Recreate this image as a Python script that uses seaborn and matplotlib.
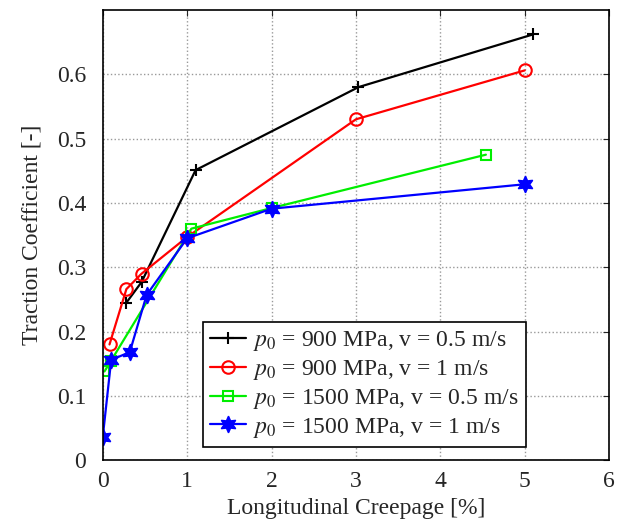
import matplotlib
matplotlib.use("Agg")
import matplotlib.pyplot as plt
import seaborn as sns

# Data
x_900_05 = [0.28, 0.46, 1.10, 3.03, 5.10]
y_900_05 = [0.245, 0.277, 0.451, 0.580, 0.662]

x_900_1 = [0.08, 0.28, 0.46, 1.00, 3.00, 5.00]
y_900_1 = [0.180, 0.266, 0.290, 0.347, 0.530, 0.606]

x_1500_05 = [0.02, 0.10, 1.05, 2.00, 4.54]
y_1500_05 = [0.138, 0.155, 0.360, 0.392, 0.475]

x_1500_1 = [0.00, 0.10, 0.32, 0.52, 1.00, 2.00, 5.00]
y_1500_1 = [0.036, 0.156, 0.168, 0.257, 0.345, 0.391, 0.429]

labels = [
    r"$p_0$ = 900 MPa, v = 0.5 m/s",
    r"$p_0$ = 900 MPa, v = 1 m/s",
    r"$p_0$ = 1500 MPa, v = 0.5 m/s",
    r"$p_0$ = 1500 MPa, v = 1 m/s",
]

sns.set_style("white")
plt.rcParams["font.family"] = ["Liberation Serif", "DejaVu Serif"]
plt.rcParams["mathtext.fontset"] = "stix"

fig = plt.figure(figsize=(6.19, 5.23), dpi=100)
ax = fig.add_axes([0.166, 0.12, 0.818, 0.861])

series = [
    (x_900_05, y_900_05, "black", "+", dict(markersize=9, markeredgewidth=1.5)),
    (x_900_1, y_900_1, "red", "o", dict(markersize=9, markerfacecolor="none", markeredgewidth=1.5)),
    (x_1500_05, y_1500_05, "#00ee00", "s", dict(markersize=6.5, markerfacecolor="none", markeredgewidth=1.5)),
    (x_1500_1, y_1500_1, "blue", (6, 1, 0), dict(markersize=12, markeredgewidth=1)),
]

for (xs, ys, col, mk, kw), lab in zip(series, labels):
    sns.lineplot(x=xs, y=ys, ax=ax, color=col, marker=mk, linewidth=1.6,
                 markeredgecolor=col, label=lab, sort=False, **kw)

ax.set_xlim(0, 6)
ax.set_ylim(0, 0.7)
ax.set_xticks(range(0, 7))
ax.set_yticks([0, 0.1, 0.2, 0.3, 0.4, 0.5, 0.6])
ax.set_yticklabels(["0", "0.1", "0.2", "0.3", "0.4", "0.5", "0.6"])
ax.grid(True, linestyle=":", color="#999999", linewidth=1)
ax.tick_params(direction="in", top=True, right=True, labelsize=17, length=4)
ax.tick_params(axis="x", pad=8)
ax.tick_params(axis="y", pad=12)
for s in ax.spines.values():
    s.set_color("black")
    s.set_linewidth(1.2)

ax.set_xlabel("Longitudinal Creepage [%]", fontsize=17, labelpad=4)
ax.set_ylabel("Traction Coefficient [-]", fontsize=17, labelpad=10)

leg = ax.legend(loc="lower right", bbox_to_anchor=(0.835, 0.03), borderaxespad=0,
                fontsize=17, frameon=True, fancybox=False, framealpha=1,
                handlelength=1.5, handletextpad=0.3, labelspacing=0.2, borderpad=0.3)
leg.get_frame().set_edgecolor("black")
leg.get_frame().set_linewidth(1.2)

fig.savefig("out.png", dpi=100)
